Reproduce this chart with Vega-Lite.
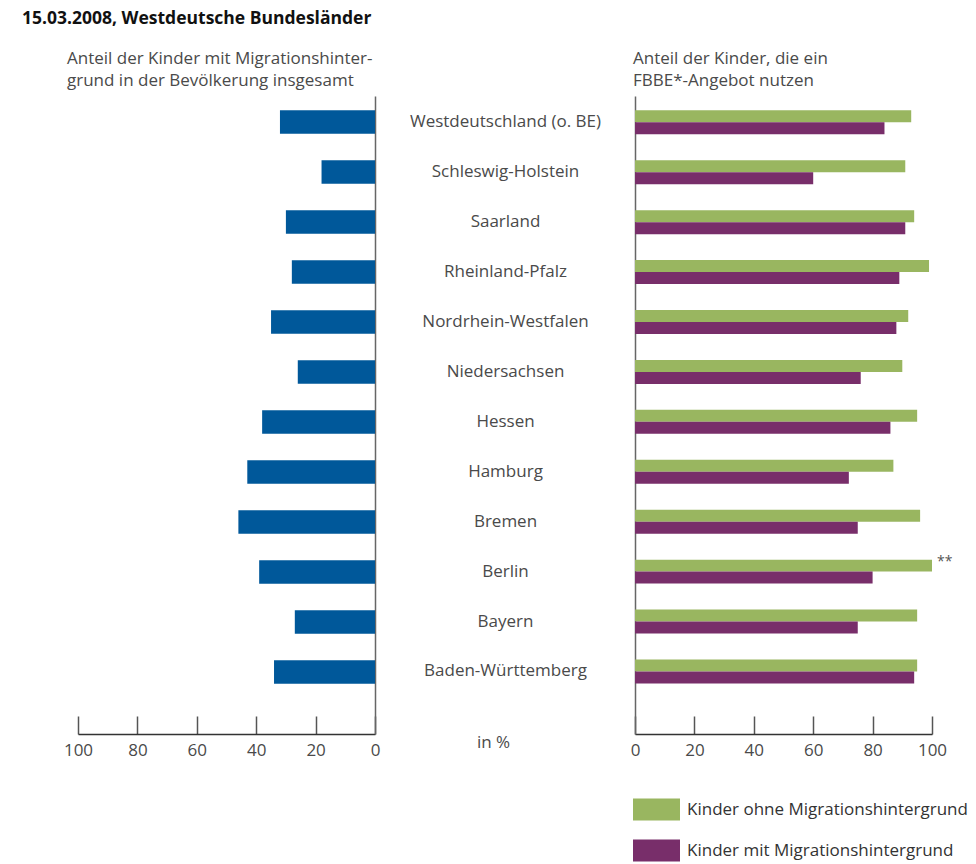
{
  "$schema": "https://vega.github.io/schema/vega-lite/v6.json",
  "padding": {"left": 22, "top": 9, "right": 0, "bottom": 0},
  "bounds": "flush",
  "spacing": 260,
  "title": {"text": "15.03.2008, Westdeutsche Bundesländer", "anchor": "start", "frame": "group", "dx": -56, "fontSize": 17.5, "fontWeight": "bold", "font": "Open Sans", "color": "#111111", "offset": 23},
  "config": {"view": {"stroke": null}, "font": "Open Sans"},
  "datasets": {
    "left": [
      {"land": "Westdeutschland (o. BE)", "anteil": 32},
      {"land": "Schleswig-Holstein", "anteil": 18},
      {"land": "Saarland", "anteil": 30},
      {"land": "Rheinland-Pfalz", "anteil": 28},
      {"land": "Nordrhein-Westfalen", "anteil": 35},
      {"land": "Niedersachsen", "anteil": 26},
      {"land": "Hessen", "anteil": 38},
      {"land": "Hamburg", "anteil": 43},
      {"land": "Bremen", "anteil": 46},
      {"land": "Berlin", "anteil": 39},
      {"land": "Bayern", "anteil": 27},
      {"land": "Baden-Württemberg", "anteil": 34}
    ],
    "right": [
      {"land": "Westdeutschland (o. BE)", "gruppe": "Kinder ohne Migrationshintergrund", "wert": 93, "note": ""},
      {"land": "Westdeutschland (o. BE)", "gruppe": "Kinder mit Migrationshintergrund", "wert": 84, "note": ""},
      {"land": "Schleswig-Holstein", "gruppe": "Kinder ohne Migrationshintergrund", "wert": 91, "note": ""},
      {"land": "Schleswig-Holstein", "gruppe": "Kinder mit Migrationshintergrund", "wert": 60, "note": ""},
      {"land": "Saarland", "gruppe": "Kinder ohne Migrationshintergrund", "wert": 94, "note": ""},
      {"land": "Saarland", "gruppe": "Kinder mit Migrationshintergrund", "wert": 91, "note": ""},
      {"land": "Rheinland-Pfalz", "gruppe": "Kinder ohne Migrationshintergrund", "wert": 99, "note": ""},
      {"land": "Rheinland-Pfalz", "gruppe": "Kinder mit Migrationshintergrund", "wert": 89, "note": ""},
      {"land": "Nordrhein-Westfalen", "gruppe": "Kinder ohne Migrationshintergrund", "wert": 92, "note": ""},
      {"land": "Nordrhein-Westfalen", "gruppe": "Kinder mit Migrationshintergrund", "wert": 88, "note": ""},
      {"land": "Niedersachsen", "gruppe": "Kinder ohne Migrationshintergrund", "wert": 90, "note": ""},
      {"land": "Niedersachsen", "gruppe": "Kinder mit Migrationshintergrund", "wert": 76, "note": ""},
      {"land": "Hessen", "gruppe": "Kinder ohne Migrationshintergrund", "wert": 95, "note": ""},
      {"land": "Hessen", "gruppe": "Kinder mit Migrationshintergrund", "wert": 86, "note": ""},
      {"land": "Hamburg", "gruppe": "Kinder ohne Migrationshintergrund", "wert": 87, "note": ""},
      {"land": "Hamburg", "gruppe": "Kinder mit Migrationshintergrund", "wert": 72, "note": ""},
      {"land": "Bremen", "gruppe": "Kinder ohne Migrationshintergrund", "wert": 96, "note": ""},
      {"land": "Bremen", "gruppe": "Kinder mit Migrationshintergrund", "wert": 75, "note": ""},
      {"land": "Berlin", "gruppe": "Kinder ohne Migrationshintergrund", "wert": 100, "note": "**"},
      {"land": "Berlin", "gruppe": "Kinder mit Migrationshintergrund", "wert": 80, "note": ""},
      {"land": "Bayern", "gruppe": "Kinder ohne Migrationshintergrund", "wert": 95, "note": ""},
      {"land": "Bayern", "gruppe": "Kinder mit Migrationshintergrund", "wert": 75, "note": ""},
      {"land": "Baden-Württemberg", "gruppe": "Kinder ohne Migrationshintergrund", "wert": 95, "note": ""},
      {"land": "Baden-Württemberg", "gruppe": "Kinder mit Migrationshintergrund", "wert": 94, "note": ""}
    ]
  },
  "hconcat": [
    {
      "width": 297,
      "height": 638,
      "data": {"name": "left"},
      "title": {"text": ["Anteil der Kinder mit Migrationshinter-", "grund in der Bevölkerung insgesamt"], "anchor": "start", "frame": "group", "dx": -11, "fontSize": 17, "fontWeight": "normal", "color": "#4a4a4a", "lineHeight": 22, "offset": 6},
      "mark": {"type": "bar", "color": "#00589A"},
      "encoding": {
        "y": {
          "field": "land", "type": "nominal",
          "sort": ["Westdeutschland (o. BE)", "Schleswig-Holstein", "Saarland", "Rheinland-Pfalz", "Nordrhein-Westfalen", "Niedersachsen", "Hessen", "Hamburg", "Bremen", "Berlin", "Bayern", "Baden-Württemberg"],
          "scale": {"paddingInner": 0.53, "paddingOuter": 0.645, "align": 0.221, "round": false},
          "axis": {"orient": "right", "labels": false, "ticks": false, "title": null, "domainColor": "#666666", "domainWidth": 1.5}
        },
        "x": {
          "field": "anteil", "type": "quantitative",
          "scale": {"domain": [0, 100], "reverse": true},
          "axis": {"values": [0, 20, 40, 60, 80, 100], "tickSize": -18, "grid": false, "title": null, "labelFlush": false, "domainColor": "#333333", "domainWidth": 1.5, "tickColor": "#555555", "tickWidth": 1.5, "labelFontSize": 17, "labelColor": "#4a4a4a", "labelPadding": 26}
        }
      }
    },
    {
      "width": 297,
      "height": 638,
      "data": {"name": "right"},
      "title": {"text": ["Anteil der Kinder, die ein", "FBBE*-Angebot nutzen"], "anchor": "start", "frame": "group", "dx": -2, "fontSize": 17, "fontWeight": "normal", "color": "#4a4a4a", "lineHeight": 22, "offset": 6},
      "encoding": {
        "y": {
          "field": "land", "type": "nominal",
          "sort": ["Westdeutschland (o. BE)", "Schleswig-Holstein", "Saarland", "Rheinland-Pfalz", "Nordrhein-Westfalen", "Niedersachsen", "Hessen", "Hamburg", "Bremen", "Berlin", "Bayern", "Baden-Württemberg"],
          "scale": {"paddingInner": 0.52, "paddingOuter": 0.65, "align": 0.221, "round": false},
          "axis": {"orient": "left", "ticks": false, "title": null, "domainColor": "#666666", "domainWidth": 1.5, "labelAlign": "center", "labelPadding": 130, "labelFontSize": 17, "labelColor": "#4a4a4a", "labelLimit": 300}
        },
        "yOffset": {
          "field": "gruppe", "type": "nominal",
          "sort": ["Kinder ohne Migrationshintergrund", "Kinder mit Migrationshintergrund"],
          "scale": {"paddingInner": 0, "paddingOuter": 0}
        },
        "x": {
          "field": "wert", "type": "quantitative",
          "scale": {"domain": [0, 100]},
          "axis": {"values": [0, 20, 40, 60, 80, 100], "tickSize": -18, "grid": false, "title": "in %", "titleX": -142, "titleY": 8, "titleBaseline": "middle", "titleFontSize": 17, "titleFontWeight": "normal", "titleColor": "#4a4a4a", "labelFlush": false, "domainColor": "#333333", "domainWidth": 1.5, "tickColor": "#555555", "tickWidth": 1.5, "labelFontSize": 17, "labelColor": "#4a4a4a", "labelPadding": 26}
        }
      },
      "layer": [
        {
          "mark": {"type": "bar"},
          "encoding": {
            "color": {
              "field": "gruppe", "type": "nominal",
              "scale": {"domain": ["Kinder ohne Migrationshintergrund", "Kinder mit Migrationshintergrund"], "range": ["#99B660", "#782E6A"]},
              "legend": {"orient": "none", "legendX": 555, "legendY": 690, "title": null, "symbolType": "M-1,-0.468H1V0.468H-1Z", "symbolSize": 2209, "symbolStrokeWidth": 0, "symbolOpacity": 1, "labelFontSize": 17, "labelColor": "#333333", "labelOffset": 7, "rowPadding": 6, "labelLimit": 400}
            }
          }
        },
        {
          "mark": {"type": "text", "align": "left", "baseline": "middle", "dx": 5, "dy": -4, "fontSize": 14, "color": "#555555"},
          "encoding": {"text": {"field": "note"}}
        }
      ]
    }
  ]
}
